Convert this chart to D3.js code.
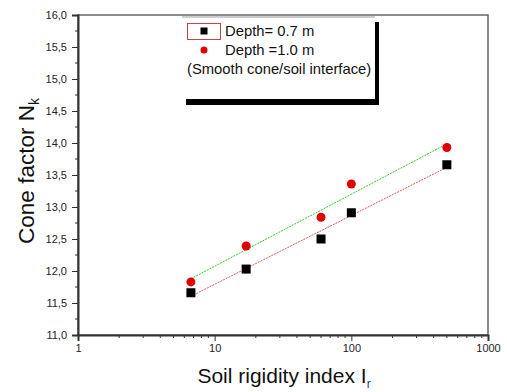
<!DOCTYPE html>
<html>
<head>
<meta charset="utf-8">
<script src="https://cdn.jsdelivr.net/npm/d3@7"></script>
<style>
  body { margin: 0; background: #fff; }
  text { font-family: "Liberation Sans", Arial, sans-serif; }
</style>
</head>
<body>
<div id="chart"></div>
<script>
// Data
const rigidity = [6.7, 17, 60, 100, 500];
const depth07 = [11.66, 12.03, 12.50, 12.91, 13.66];
const depth10 = [11.83, 12.39, 12.84, 13.36, 13.93];
const yTicks = [11.0, 11.5, 12.0, 12.5, 13.0, 13.5, 14.0, 14.5, 15.0, 15.5, 16.0];
const xTicks = [1, 10, 100, 1000];
const legendLabels = ['Depth= 0.7 m', 'Depth =1.0 m', '(Smooth cone/soil interface)'];

const W = 507, H = 392;
const margin = { top: 15, right: 19, bottom: 57, left: 78 };
const width = W - margin.left - margin.right;
const height = H - margin.top - margin.bottom;

const svg = d3.select('#chart').append('svg')
  .attr('width', W).attr('height', H);

const g = svg.append('g')
  .attr('transform', `translate(${margin.left},${margin.top})`);

const x = d3.scaleLog().domain([1, 1000]).range([0, width]);
const y = d3.scaleLinear().domain([11, 16]).range([height, 0]);

// frame
g.append('rect')
  .attr('width', width).attr('height', height)
  .attr('fill', 'none').attr('stroke', '#666').attr('stroke-width', 1.5);

// y axis
const yAxis = g.append('g')
  .call(d3.axisLeft(y).tickValues(yTicks).tickSize(6).tickFormat(d => d3.format('.1f')(d).replace('.', ',')));
yAxis.select('.domain').attr('stroke', '#333').attr('stroke-width', 2);
yAxis.selectAll('.tick line').attr('stroke', '#333');
yAxis.selectAll('.tick text').attr('font-size', 11).attr('fill', '#222').attr('dx', -2);

const yMinor = d3.range(11.25, 16, 0.5);
g.append('g').selectAll('line').data(yMinor).join('line')
  .attr('x1', 0).attr('x2', -3)
  .attr('y1', d => y(d)).attr('y2', d => y(d))
  .attr('stroke', '#333');

// x axis
const xAxis = g.append('g')
  .attr('transform', `translate(0,${height})`)
  .call(d3.axisBottom(x).tickValues(xTicks).tickSize(6).tickFormat(d3.format('d')));
xAxis.select('.domain').attr('stroke', '#333').attr('stroke-width', 2);
xAxis.selectAll('.tick line').attr('stroke', '#333');
xAxis.selectAll('.tick text').attr('font-size', 11).attr('fill', '#222').attr('dy', 8);

const xMinor = [];
[1, 10, 100].forEach(b => { for (let k = 2; k <= 9; k++) xMinor.push(b * k); });
g.append('g').selectAll('line').data(xMinor).join('line')
  .attr('x1', d => x(d)).attr('x2', d => x(d))
  .attr('y1', height).attr('y2', height + 3)
  .attr('stroke', '#333');

// linear fit against log10(Ir)
function fit(xs, ys) {
  const lx = xs.map(Math.log10);
  const mx = d3.mean(lx), my = d3.mean(ys);
  const b = d3.sum(lx, (v, i) => (v - mx) * (ys[i] - my)) / d3.sum(lx, v => (v - mx) ** 2);
  const a = my - b * mx;
  const ends = [d3.min(xs), d3.max(xs)];
  return ends.map(v => [v, a + b * Math.log10(v)]);
}

const line = d3.line().x(d => x(d[0])).y(d => y(d[1]));

g.append('path').datum(fit(rigidity, depth07))
  .attr('d', line).attr('fill', 'none')
  .attr('stroke', '#e05555').attr('stroke-width', 1).attr('stroke-dasharray', '2,1');
g.append('path').datum(fit(rigidity, depth10))
  .attr('d', line).attr('fill', 'none')
  .attr('stroke', '#33cc33').attr('stroke-width', 1).attr('stroke-dasharray', '2,1');

// points
g.selectAll('.sq').data(rigidity).join('rect')
  .attr('class', 'sq')
  .attr('x', (d) => x(d) - 4.5)
  .attr('y', (d, i) => y(depth07[i]) - 4.5)
  .attr('width', 9).attr('height', 9)
  .attr('fill', '#000');

g.selectAll('.dot').data(rigidity).join('circle')
  .attr('class', 'dot')
  .attr('cx', d => x(d))
  .attr('cy', (d, i) => y(depth10[i]))
  .attr('r', 4.5)
  .attr('fill', '#e00000');

// legend
const lg = svg.append('g');
lg.append('rect').attr('x', 186).attr('y', 22).attr('width', 193).attr('height', 83).attr('fill', '#000');
lg.append('rect').attr('x', 182).attr('y', 17).attr('width', 193).attr('height', 82)
  .attr('fill', '#fff');
lg.append('line').attr('x1', 182).attr('x2', 375).attr('y1', 17).attr('y2', 17)
  .attr('stroke', '#999').attr('stroke-width', 1);
lg.append('rect').attr('x', 187.5).attr('y', 23.5).attr('width', 33).attr('height', 16)
  .attr('fill', 'none').attr('stroke', '#d04040').attr('stroke-width', 1);
lg.append('rect').attr('x', 200.5).attr('y', 27.5).attr('width', 7).attr('height', 7).attr('fill', '#000');
lg.append('circle').attr('cx', 204).attr('cy', 50).attr('r', 3.5).attr('fill', '#e00000');
lg.selectAll('text').data(legendLabels).join('text')
  .attr('x', (d, i) => i < 2 ? 225 : 187)
  .attr('y', (d, i) => 36 + i * 19)
  .attr('font-size', 14.8).attr('fill', '#111')
  .text(d => d);

// axis titles
const yt = svg.append('text')
  .attr('transform', `translate(34,${margin.top + height / 2 - 4}) rotate(-90)`)
  .attr('text-anchor', 'middle').attr('font-size', 22.5).attr('fill', '#111');
yt.append('tspan').text('Cone factor N');
yt.append('tspan').attr('font-size', 14).attr('dy', 5).text('k');

const xt = svg.append('text')
  .attr('x', margin.left + width / 2 + 1).attr('y', 383)
  .attr('text-anchor', 'middle').attr('font-size', 21).attr('fill', '#111');
xt.append('tspan').text('Soil rigidity index I');
xt.append('tspan').attr('font-size', 12).attr('dy', 5).attr('fill', '#1a3a8a').text('r');
</script>
</body>
</html>
